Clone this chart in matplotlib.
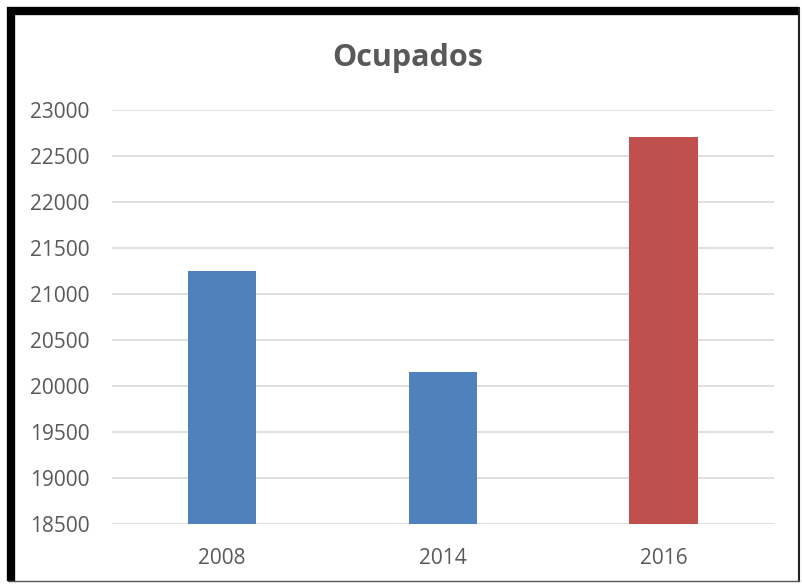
import matplotlib.pyplot as plt
from matplotlib.lines import Line2D

years = ['2008', '2014', '2016']
ocupados = [21250, 20150, 22710]
bar_colors = ['#4F81BD', '#4F81BD', '#C0504D']
y_ticks = list(range(18500, 23001, 500))

plt.rcParams['font.family'] = ['Open Sans', 'DejaVu Sans']

fig = plt.figure(figsize=(8.02, 5.84), dpi=100)
ax = fig.add_axes([0.1393, 0.1027, 0.965 - 0.1393, 0.8116 - 0.1027])

x = range(len(years))
ax.bar(x, ocupados, width=0.31, color=bar_colors, zorder=3)

ax.set_xlim(-0.5, 2.5)
ax.set_ylim(18500, 23000)
ax.set_yticks(y_ticks)
ax.set_xticks(list(x))
ax.set_xticklabels(years)
ax.grid(axis='y', color='#D9D9D9', linewidth=1.2, zorder=0)
for s in ax.spines.values():
    s.set_visible(False)
ax.tick_params(axis='both', length=0, labelsize=15, labelcolor='#595959')
ax.tick_params(axis='y', pad=16)
ax.tick_params(axis='x', pad=17)

fig.text(0.5087, 0.901, 'Ocupados', ha='center', va='center',
         fontsize=22, fontweight='bold', color='#595959')

# frame around the chart (thick top/left, thin right/bottom)
W, H = 802, 584
fig.add_artist(Line2D([11 / W, 11 / W], [1 - 7 / H, 1 - 581 / H], color='black', lw=6,
                      solid_capstyle='butt', transform=fig.transFigure))
fig.add_artist(Line2D([7 / W, 799 / W], [1 - 11 / H, 1 - 11 / H], color='black', lw=6,
                      solid_capstyle='butt', transform=fig.transFigure))
fig.add_artist(Line2D([799 / W, 799 / W], [1 - 8 / H, 1 - 581 / H], color='#222222', lw=1.5,
                      transform=fig.transFigure))
fig.add_artist(Line2D([8 / W, 799 / W], [1 - 581 / H, 1 - 581 / H], color='#555555', lw=1,
                      transform=fig.transFigure))

fig.savefig('out.png', dpi=100)
